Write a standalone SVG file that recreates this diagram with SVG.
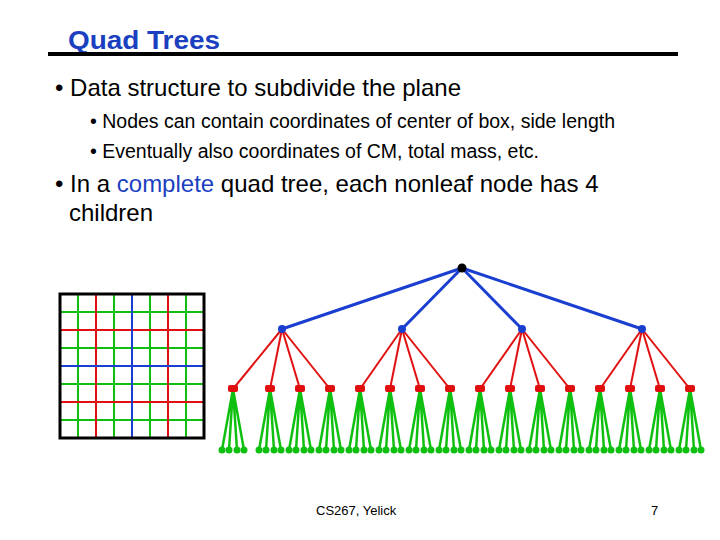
<svg xmlns="http://www.w3.org/2000/svg" width="720" height="540" viewBox="0 0 720 540">
<style>
text{font-family:"Liberation Sans",Arial,sans-serif;fill:#000}
.b{stroke:#1a3fd0;stroke-width:3}
.r{stroke:#e01010;stroke-width:2}
.g{stroke:#10c010;stroke-width:2}
</style>
<rect width="720" height="540" fill="#fff"/>
<text x="68" y="49" font-size="25" font-weight="bold" style="fill:#1a3fc0" textLength="152" lengthAdjust="spacingAndGlyphs">Quad Trees</text>
<line x1="48" y1="54" x2="678" y2="54" stroke="#000" stroke-width="4"/>
<text x="55" y="96" font-size="24">• Data structure to subdivide the plane</text>
<text x="90" y="128" font-size="19.5">• Nodes can contain coordinates of center of box, side length</text>
<text x="90" y="158" font-size="19.5">• Eventually also coordinates of CM, total mass, etc.</text>
<text x="55" y="192" font-size="24">• In a <tspan style="fill:#1a3fc0">complete</tspan> quad tree, each nonleaf node has 4</text>
<text x="69" y="221" font-size="24">children</text>
<g id="grid">
<g class="g"><line x1="78" y1="294" x2="78" y2="438"/><line x1="114" y1="294" x2="114" y2="438"/><line x1="150" y1="294" x2="150" y2="438"/><line x1="186" y1="294" x2="186" y2="438"/>
<line x1="60" y1="312" x2="204" y2="312"/><line x1="60" y1="348" x2="204" y2="348"/><line x1="60" y1="384" x2="204" y2="384"/><line x1="60" y1="420" x2="204" y2="420"/></g>
<g class="r"><line x1="96" y1="294" x2="96" y2="438"/><line x1="168" y1="294" x2="168" y2="438"/><line x1="60" y1="330" x2="204" y2="330"/><line x1="60" y1="402" x2="204" y2="402"/></g>
<g class="b" style="stroke-width:2"><line x1="132" y1="294" x2="132" y2="438"/><line x1="60" y1="366" x2="204" y2="366"/></g>
<rect x="60" y="294" width="144" height="144" fill="none" stroke="#000" stroke-width="3"/>
</g>
<g id="connectors">
<g class="b"><line x1="462" y1="268" x2="282" y2="329"/><line x1="462" y1="268" x2="402" y2="329"/><line x1="462" y1="268" x2="522" y2="329"/><line x1="462" y1="268" x2="642" y2="329"/></g>
<g class="r">
<line x1="282" y1="329" x2="233" y2="389"/><line x1="282" y1="329" x2="270" y2="389"/><line x1="282" y1="329" x2="300" y2="389"/><line x1="282" y1="329" x2="330" y2="389"/>
<line x1="402" y1="329" x2="360" y2="389"/><line x1="402" y1="329" x2="390" y2="389"/><line x1="402" y1="329" x2="420" y2="389"/><line x1="402" y1="329" x2="450" y2="389"/>
<line x1="522" y1="329" x2="480" y2="389"/><line x1="522" y1="329" x2="510" y2="389"/><line x1="522" y1="329" x2="540" y2="389"/><line x1="522" y1="329" x2="570" y2="389"/>
<line x1="642" y1="329" x2="600" y2="389"/><line x1="642" y1="329" x2="630" y2="389"/><line x1="642" y1="329" x2="660" y2="389"/><line x1="642" y1="329" x2="690" y2="389"/>
</g>
<g class="g" id="leaves">
<path id="lf" d="M233 389L222 450M233 389L229 450M233 389L237 450M233 389L244 450" fill="none" stroke-width="2.5"/>
<use href="#lf" x="37"/><use href="#lf" x="67"/><use href="#lf" x="97"/><use href="#lf" x="127"/><use href="#lf" x="157"/><use href="#lf" x="187"/><use href="#lf" x="217"/><use href="#lf" x="247"/><use href="#lf" x="277"/><use href="#lf" x="307"/><use href="#lf" x="337"/><use href="#lf" x="367"/><use href="#lf" x="397"/><use href="#lf" x="427"/><use href="#lf" x="457"/>
</g>
</g>
<g id="nodes">
<circle id="root" cx="462" cy="268" r="4.5" fill="#000"/>
<g fill="#1a3fd0"><circle cx="282" cy="329" r="4"/><circle cx="402" cy="329" r="4"/><circle cx="522" cy="329" r="4"/><circle cx="642" cy="329" r="4"/></g>
<g fill="#e01010" id="l2">
<rect id="rn" x="228" y="385" width="10" height="7" rx="2"/>
<use href="#rn" x="37"/><use href="#rn" x="67"/><use href="#rn" x="97"/><use href="#rn" x="127"/><use href="#rn" x="157"/><use href="#rn" x="187"/><use href="#rn" x="217"/><use href="#rn" x="247"/><use href="#rn" x="277"/><use href="#rn" x="307"/><use href="#rn" x="337"/><use href="#rn" x="367"/><use href="#rn" x="397"/><use href="#rn" x="427"/><use href="#rn" x="457"/>
</g>
<g fill="#10c010" id="l3">
<g id="gn"><circle cx="222" cy="450" r="3.5"/><circle cx="229" cy="450" r="3.5"/><circle cx="237" cy="450" r="3.5"/><circle cx="244" cy="450" r="3.5"/></g>
<use href="#gn" x="37"/><use href="#gn" x="67"/><use href="#gn" x="97"/><use href="#gn" x="127"/><use href="#gn" x="157"/><use href="#gn" x="187"/><use href="#gn" x="217"/><use href="#gn" x="247"/><use href="#gn" x="277"/><use href="#gn" x="307"/><use href="#gn" x="337"/><use href="#gn" x="367"/><use href="#gn" x="397"/><use href="#gn" x="427"/><use href="#gn" x="457"/>
</g>
</g>
<text x="316" y="515" font-size="13">CS267, Yelick</text>
<text x="651" y="515" font-size="13">7</text>
</svg>
